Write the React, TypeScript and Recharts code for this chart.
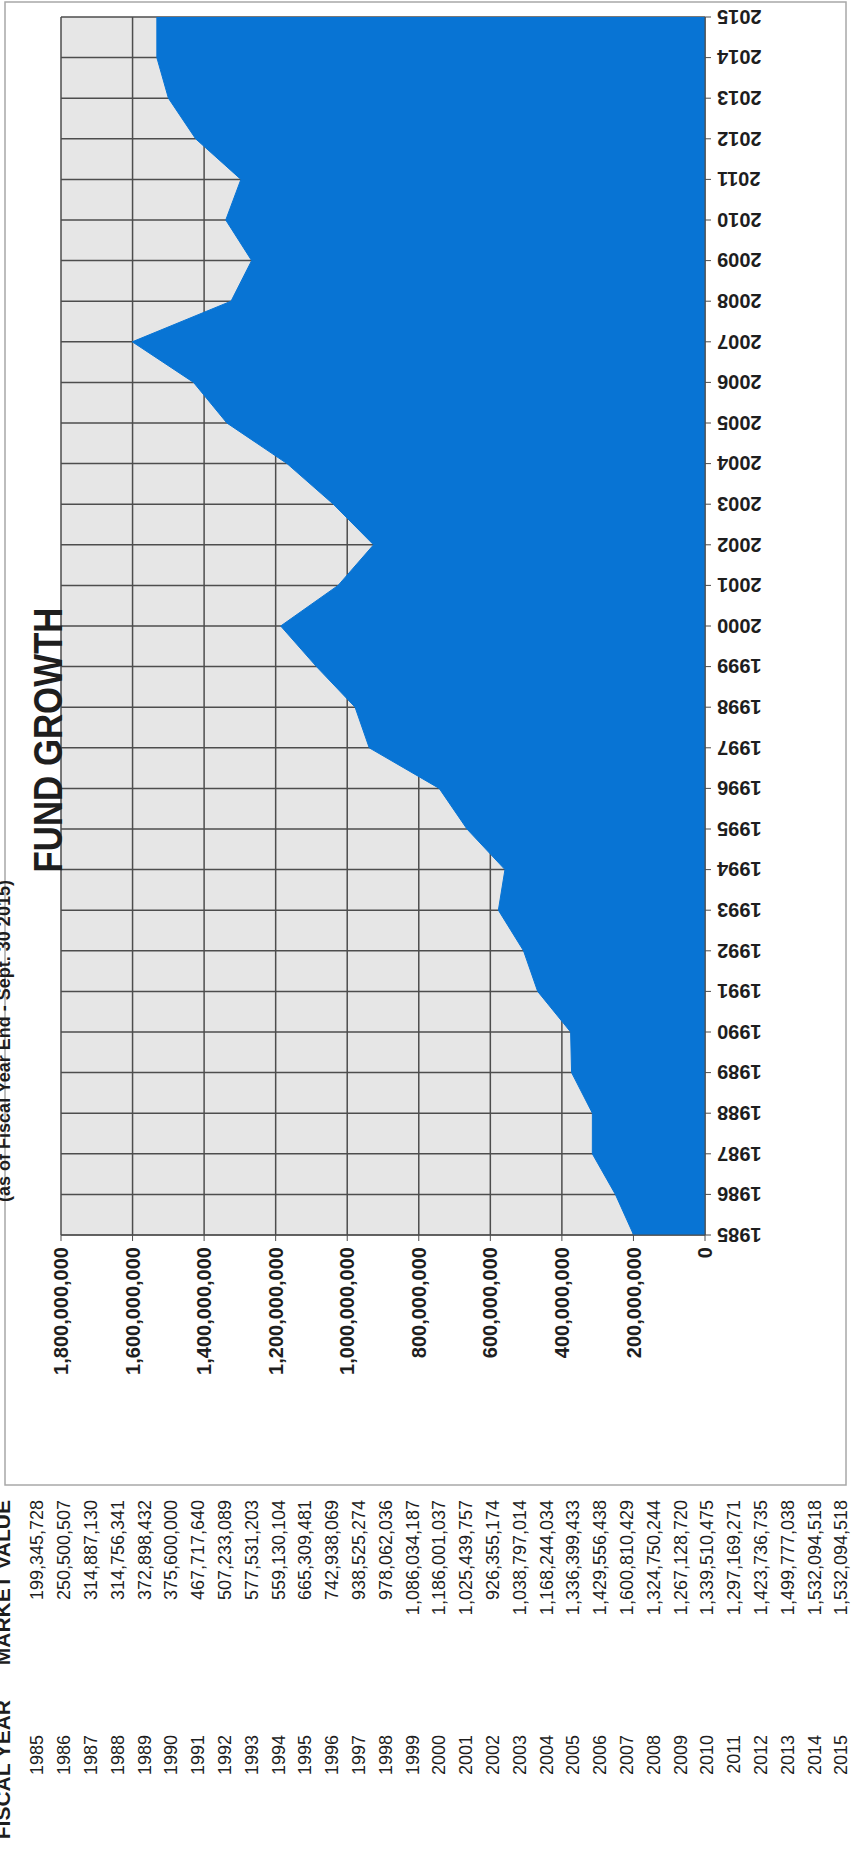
import { Area, AreaChart, CartesianGrid, XAxis, YAxis } from 'recharts';

// fiscal years and market value (as printed in the table)
const YEARS = [
  1985, 1986, 1987, 1988, 1989, 1990, 1991, 1992, 1993, 1994, 1995, 1996, 1997, 1998, 1999, 2000,
  2001, 2002, 2003, 2004, 2005, 2006, 2007, 2008, 2009, 2010, 2011, 2012, 2013, 2014, 2015,
];
const MARKET_VALUES = [
  199345728, 250500507, 314887130, 314756341, 372898432, 375600000, 467717640, 507233089,
  577531203, 559130104, 665309481, 742938069, 938525274, 978062036, 1086034187, 1186001037,
  1025439757, 926355174, 1038797014, 1168244034, 1336399433, 1429556438, 1600810429,
  1324750244, 1267128720, 1339510475, 1297169271, 1423736735, 1499777038, 1532094518,
  1532094518,
];
const VALUE_TICKS = [
  0, 200000000, 400000000, 600000000, 800000000, 1000000000, 1200000000, 1400000000,
  1600000000, 1800000000,
];

const TITLE = 'FUND GROWTH';
const SUBTITLE = '(as of Fiscal Year End - Sept. 30 2015)';

// the scanned page is landscape, shown turned a quarter turn
const PAGE_W = 1849;
const PAGE_H = 854;

const SANS = "'Liberation Sans', Arial, sans-serif";
const NARROW = "'Liberation Sans Narrow', 'Arial Narrow', 'Liberation Sans', Arial, sans-serif";
const BLUE = '#0874d4';
const GRID = '#4d4d4d';
const INK = '#1e1e1e';

const fmt = (v: number) => v.toLocaleString('en-US');

function YearTick({ x, y, payload }: any) {
  return (
    <g transform={`translate(${x},${y})`}>
      <text
        transform="rotate(-90)"
        textAnchor="end"
        dy="0.36em"
        fontSize={20}
        fontWeight={700}
        fontFamily={SANS}
        fill={INK}
      >
        {payload.value}
      </text>
    </g>
  );
}

const data = YEARS.map((year, i) => ({ year: String(year), value: MARKET_VALUES[i] }));

export default function App() {
  return (
    <div style={{ position: 'absolute', left: 0, top: 0, width: PAGE_H, height: PAGE_W, overflow: 'hidden', background: '#fff' }}>
      <div
        style={{
          position: 'absolute',
          left: 0,
          top: 0,
          width: PAGE_W,
          height: PAGE_H,
          transformOrigin: '0 0',
          transform: `translateY(${PAGE_W}px) rotate(-90deg)`,
          background: '#fff',
        }}
      >
        <div style={{ position: 'absolute', left: 364, top: 5 }}>
          <AreaChart width={1483} height={841} data={data} margin={{ top: 56, right: 15, bottom: 0, left: 100 }}>
            <CartesianGrid fill="#e6e6e6" stroke={GRID} strokeWidth={1.5} />
            <XAxis
              dataKey="year"
              interval={0}
              height={141}
              tickSize={6}
              tickMargin={6}
              tick={<YearTick />}
              axisLine={{ stroke: GRID }}
              tickLine={{ stroke: GRID }}
            />
            <YAxis
              type="number"
              domain={[0, 1800000000]}
              ticks={VALUE_TICKS}
              interval={0}
              width={150}
              tickSize={6}
              tickMargin={6}
              tickFormatter={fmt}
              tick={{ fontSize: 20, fontWeight: 700, fontFamily: SANS, fill: INK }}
              axisLine={{ stroke: GRID }}
              tickLine={{ stroke: GRID }}
            />
            <Area
              type="linear"
              dataKey="value"
              stroke={BLUE}
              strokeWidth={1}
              fill={BLUE}
              fillOpacity={1}
              dot={false}
              activeDot={false}
              isAnimationActive={false}
            />
          </AreaChart>
        </div>

        <svg width={PAGE_W} height={PAGE_H} style={{ position: 'absolute', left: 0, top: 0, pointerEvents: 'none' }}>
          <rect x={364} y={5} width={1483} height={841} fill="none" stroke="#a8a8a8" strokeWidth={1.5} />
          {/* title in the scan is a condensed bold face */}
          <text
            transform="translate(1109,62) scale(0.87,1)"
            textAnchor="middle"
            fontSize={40}
            fontWeight={700}
            fontFamily={SANS}
            fill={INK}
          >
            {TITLE}
          </text>
          <text x={808} y={10} textAnchor="middle" fontSize={18} fontWeight={700} fontFamily={SANS} fill={INK}>
            {SUBTITLE}
          </text>
          <text x={149} y={10} textAnchor="end" fontSize={21} fontWeight={700} fontFamily={SANS} fill={INK}>
            FISCAL YEAR
          </text>
          <text x={349} y={10} textAnchor="end" fontSize={21} fontWeight={700} fontFamily={SANS} fill={INK}>
            MARKET VALUE
          </text>
          {YEARS.map((year, i) => (
            <g key={year}>
              <text x={114} y={37 + 26.8 * i} dy="0.36em" textAnchor="end" fontSize={18} fontFamily={NARROW} fill={INK}>
                {year}
              </text>
              <text x={349} y={37 + 26.8 * i} dy="0.36em" textAnchor="end" fontSize={18} fontFamily={NARROW} fill={INK}>
                {fmt(MARKET_VALUES[i])}
              </text>
            </g>
          ))}
        </svg>
      </div>
    </div>
  );
}
